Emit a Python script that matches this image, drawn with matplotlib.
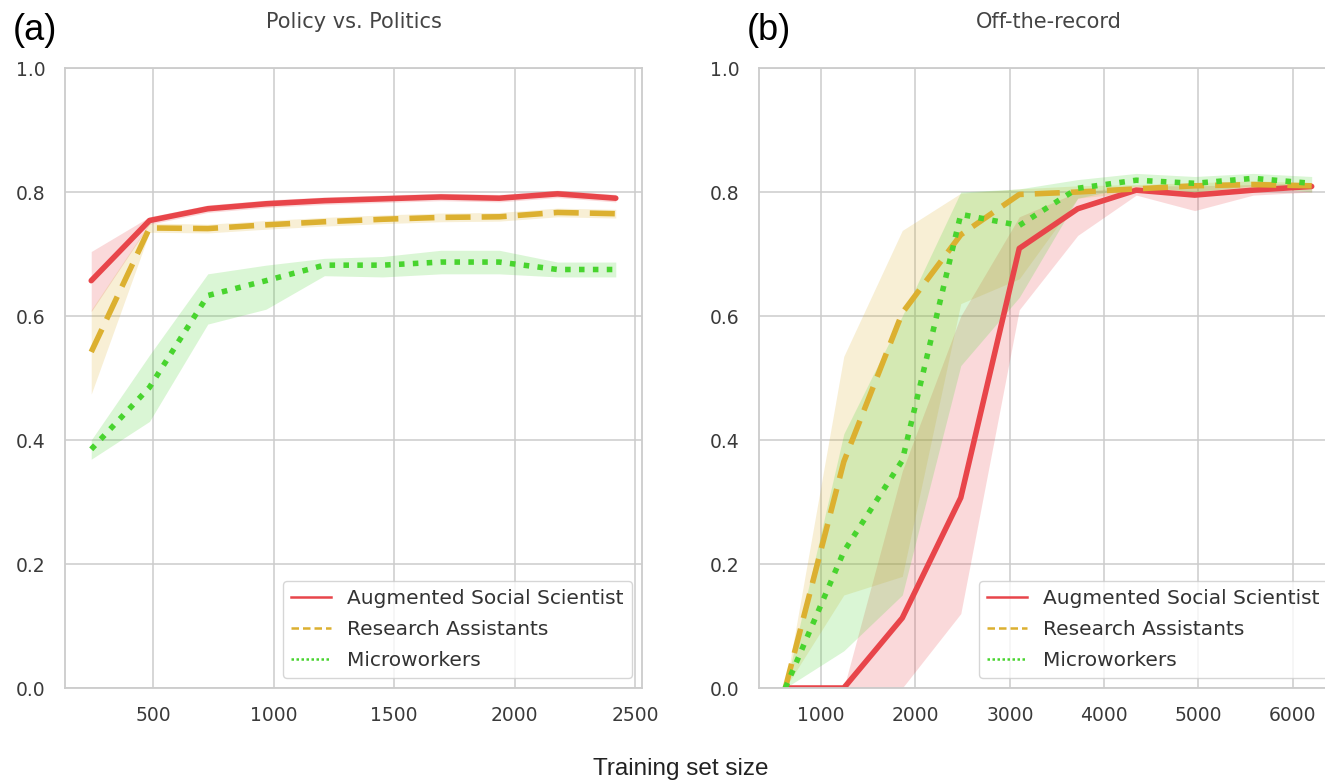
import numpy as np
import matplotlib.pyplot as plt
from matplotlib.lines import Line2D

# (a) Policy vs. Politics
sizes_a = [242, 484, 726, 968, 1210, 1452, 1694, 1936, 2178, 2420]
ass_a = [0.657, 0.754, 0.773, 0.781, 0.786, 0.789, 0.792, 0.790, 0.797, 0.790]
ass_a_lo = [0.607, 0.748, 0.767, 0.775, 0.780, 0.783, 0.786, 0.784, 0.791, 0.784]
ass_a_hi = [0.704, 0.760, 0.779, 0.787, 0.792, 0.795, 0.798, 0.796, 0.803, 0.796]
ra_a = [0.542, 0.742, 0.741, 0.747, 0.752, 0.756, 0.759, 0.760, 0.767, 0.765]
ra_a_lo = [0.474, 0.735, 0.734, 0.740, 0.745, 0.749, 0.752, 0.753, 0.760, 0.758]
ra_a_hi = [0.610, 0.750, 0.748, 0.754, 0.759, 0.763, 0.766, 0.767, 0.774, 0.772]
mw_a = [0.385, 0.485, 0.633, 0.657, 0.682, 0.682, 0.687, 0.687, 0.675, 0.675]
mw_a_lo = [0.369, 0.430, 0.587, 0.611, 0.665, 0.663, 0.668, 0.668, 0.663, 0.663]
mw_a_hi = [0.400, 0.537, 0.668, 0.682, 0.693, 0.696, 0.706, 0.706, 0.687, 0.687]

# (b) Off-the-record
sizes_b = [620, 1240, 1860, 2480, 3100, 3720, 4340, 4960, 5580, 6200]
ass_b = [0.0, 0.0, 0.113, 0.307, 0.709, 0.773, 0.803, 0.795, 0.803, 0.809]
ass_b_lo = [0.0, 0.0, 0.0, 0.12, 0.61, 0.73, 0.795, 0.77, 0.795, 0.80]
ass_b_hi = [0.0, 0.0, 0.35, 0.60, 0.76, 0.80, 0.81, 0.81, 0.812, 0.815]
ra_b = [0.0, 0.365, 0.605, 0.731, 0.796, 0.800, 0.805, 0.810, 0.812, 0.810]
ra_b_lo = [0.0, 0.15, 0.18, 0.62, 0.66, 0.79, 0.80, 0.80, 0.805, 0.805]
ra_b_hi = [0.0, 0.535, 0.738, 0.798, 0.805, 0.81, 0.812, 0.815, 0.818, 0.815]
mw_b = [0.0, 0.22, 0.367, 0.764, 0.746, 0.806, 0.819, 0.814, 0.822, 0.814]
mw_b_lo = [0.0, 0.06, 0.15, 0.52, 0.63, 0.79, 0.81, 0.80, 0.81, 0.80]
mw_b_hi = [0.0, 0.41, 0.60, 0.80, 0.805, 0.82, 0.83, 0.825, 0.83, 0.825]

labels = ['Augmented Social Scientist', 'Research Assistants', 'Microworkers']
colors = ['#e8454a', '#dcb030', '#48d42e']
dashes = [None, (4.5, 2.0), (1.0, 1.5)]
titles = ['Policy vs. Politics', 'Off-the-record']
panel_tags = ['(a)', '(b)']
yticks = [0.0, 0.2, 0.4, 0.6, 0.8, 1.0]
xticks_a = [500, 1000, 1500, 2000, 2500]
xticks_b = [1000, 2000, 3000, 4000, 5000, 6000]

W, H = 1325, 784
fig = plt.figure(figsize=(W / 100, H / 100), dpi=100)
ax_a = fig.add_axes([65 / W, 1 - 688 / H, (642 - 65) / W, (688 - 68) / H])
ax_b = fig.add_axes([759 / W, 1 - 688 / H, (1338 - 759) / W, (688 - 68) / H])

panels = [
    (ax_a, sizes_a, [(ass_a, ass_a_lo, ass_a_hi), (ra_a, ra_a_lo, ra_a_hi), (mw_a, mw_a_lo, mw_a_hi)], xticks_a),
    (ax_b, sizes_b, [(ass_b, ass_b_lo, ass_b_hi), (ra_b, ra_b_lo, ra_b_hi), (mw_b, mw_b_lo, mw_b_hi)], xticks_b),
]

for i, (ax, xs, series, xticks) in enumerate(panels):
    for (mean, lo, hi), c, d in zip(series, colors, dashes):
        ax.fill_between(xs, lo, hi, color=c, alpha=0.2, lw=0)
    for (mean, lo, hi), c, d in zip(series, colors, dashes):
        line, = ax.plot(xs, mean, color=c, lw=4, solid_capstyle='round')
        if d is not None:
            line.set_dashes(d)
    ax.set_ylim(0, 1.0)
    ax.set_yticks(yticks)
    ax.set_xticks(xticks)
    ax.grid(True, color='#cccccc', lw=1.1)
    ax.set_axisbelow(True)
    for s in ax.spines.values():
        s.set_color('#cccccc')
        s.set_linewidth(1.3)
    ax.tick_params(length=0, labelsize=13.5, labelcolor='#3a3a3a')
    ax.tick_params(axis='y', pad=14)
    ax.tick_params(axis='x', pad=13)
    ax.set_title(titles[i], fontsize=15, color='#444444', pad=29)

    handles = [Line2D([], [], color=c, lw=1.8, dashes=d if d is not None else (None, None))
               for c, d in zip(colors, [None, (3, 1.6), (1, 1)])]
    leg = ax.legend(handles, labels, loc='lower right', fontsize=14.5, frameon=True,
                    fancybox=True, edgecolor='#cccccc', framealpha=0.8, borderaxespad=0.5,
                    labelspacing=0.6, labelcolor='#333333')
    leg.get_frame().set_linewidth(1.0)

fig.text(13 / W, 1 - 40 / H, panel_tags[0], fontsize=26, family='Liberation Sans', va='baseline')
fig.text(747 / W, 1 - 40 / H, panel_tags[1], fontsize=26, family='Liberation Sans', va='baseline')
fig.text(681 / W, 1 - 775 / H, 'Training set size', fontsize=17.5, family='Liberation Sans',
         ha='center', va='baseline', color='#222222')

fig.savefig('out.png', dpi=100)
